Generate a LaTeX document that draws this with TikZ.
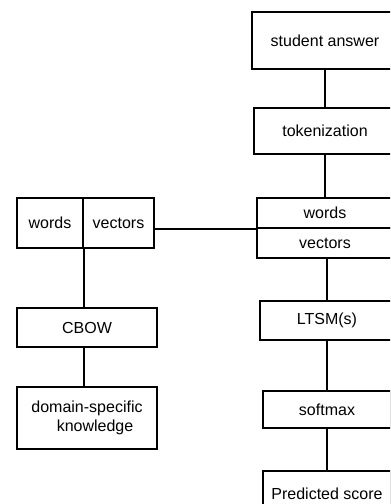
\documentclass[tikz,border=0pt]{standalone}
\usepackage{fontspec}
\setmainfont{Liberation Sans}
\begin{document}
\begin{tikzpicture}
[x=0.75pt,y=-0.75pt,%
  lineDecorate/.style={-,line width=1.7pt},%
  boxDecorate/.style={shape=rectangle,draw,line width=1.7pt,inner sep=2pt,anchor=north},%
  ]
\fontsize{12}{14}\selectfont
\useasboundingbox (0,0) rectangle (390,504);
\clip (0,0) rectangle (390,504);
%% nodes of the right column
\foreach \nodename/\x/\y/\h/\w/\txt in {sa/325/11/57/146/{student answer},
  tok/325/107/46/142/{tokenization}, rwords/325/197/30/136/{words},
  rvec/325/227/30/136/{vectors}, ltsm/327/300/39/134/{LTSM(s)},
  soft/327/390/37/128/{softmax}, pred/327/470/45/128/{Predicted score}}
{
  \node (\nodename) at (\x,\y) [boxDecorate,minimum width=0.75pt*\w,minimum height=0.75pt*\h] {\txt};
}
%% nodes of the left column
\node (lwords) at (50,197) [boxDecorate,minimum width=49.5pt,minimum height=37.5pt] {words};
\node (lvec) at (118.5,197) [boxDecorate,minimum width=53.25pt,minimum height=37.5pt] {vectors};
\node (cbow) at (87,307) [boxDecorate,minimum width=105pt,minimum height=29.25pt] {CBOW};
\node (dom) at (87,386) [boxDecorate,minimum width=105pt,minimum height=46.5pt,align=center]
  {domain-specific\\\hspace*{1em}knowledge};
%% edges or lines
\draw[lineDecorate] (sa.south) -- (sa.south |- tok.north);
\draw[lineDecorate] (tok.south) -- (tok.south |- rwords.north);
\draw[lineDecorate] (ltsm.north |- rvec.south) -- (ltsm.north);
\draw[lineDecorate] (ltsm.south) -- (soft.north);
\draw[lineDecorate] (soft.south) -- (pred.north);
\draw[lineDecorate] (lvec.east |- rwords.south west) -- (rwords.south west);
\draw[lineDecorate] (lwords.south east) -- (lwords.south east |- cbow.north);
\draw[lineDecorate] (cbow.south -| lwords.south east) -- (dom.north -| lwords.south east);
\end{tikzpicture}
\end{document}
